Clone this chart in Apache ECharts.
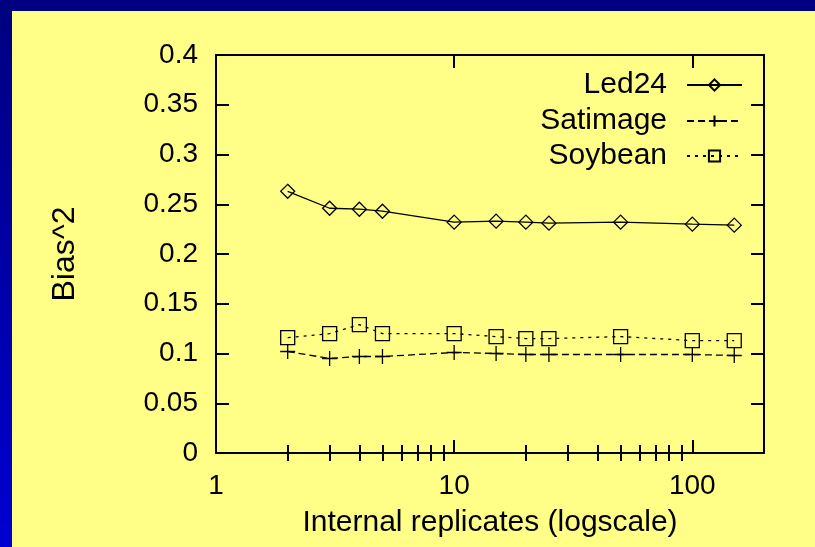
<!DOCTYPE html>
<html>
<head>
<meta charset="utf-8">
<script src="https://cdn.jsdelivr.net/npm/echarts@6/dist/echarts.min.js"></script>
<style>
html,body{margin:0;padding:0;width:815px;height:547px;overflow:hidden;}
body{background:linear-gradient(to bottom,#000080,#0000d2);}
#c{position:absolute;left:12px;top:11px;width:803px;height:536px;background:#ffff88;}
</style>
</head>
<body>
<div id="c"></div>
<script>
// ---- data ----
const replicates = [2, 3, 4, 5, 10, 15, 20, 25, 50, 100, 150];
const led24    = [0.263, 0.246, 0.245, 0.243, 0.232, 0.233, 0.232, 0.231, 0.232, 0.230, 0.229];
const satimage = [0.102, 0.095, 0.097, 0.097, 0.101, 0.100, 0.099, 0.099, 0.099, 0.099, 0.098];
const soybean  = [0.116, 0.120, 0.129, 0.120, 0.120, 0.117, 0.115, 0.115, 0.117, 0.113, 0.113];
const yTickLabels = ['0', '0.05', '0.1', '0.15', '0.2', '0.25', '0.3', '0.35', '0.4'];
const xMajorTicks = [1, 10, 100];
const xTickLabels = ['1', '10', '100'];
const xMinorTicks = [2, 3, 4, 5, 6, 7, 8, 9, 20, 30, 40, 50, 60, 70, 80, 90];
const xMin = 1, xMax = 200;

const FONT = "'Liberation Sans', Arial, Helvetica, sans-serif";
const INK = '#000';

function pairs(ys) { return replicates.map((x, i) => [x, ys[i]]); }
function xLabel(v) {
  const i = xMajorTicks.findIndex(t => Math.abs(t - v) < 1e-6 * t);
  return i >= 0 ? xTickLabels[i] : '';
}

const plusPath = 'path://M0,-10L0,10M-10,0L10,0';

const chart = echarts.init(document.getElementById('c'), null, {renderer: 'canvas'});

const commonLegend = {
  orient: 'vertical', align: 'right', padding: 0,
  itemWidth: 55, itemHeight: 14, right: 72,
  textStyle: {fontFamily: FONT, fontSize: 30, color: INK, lineHeight: 30, padding: [0, 15, 0, 0]},
  selectedMode: false
};

const tickStyle = {color: INK, width: 2};

const option = {
  animation: false,
  backgroundColor: 'transparent',
  textStyle: {fontFamily: FONT},
  grid: {left: 204, right: 51, top: 44, bottom: 94, containLabel: false},
  legend: [
    Object.assign({}, commonLegend, {data: ['Led24'], top: 59}),
    Object.assign({}, commonLegend, {data: ['Satimage'], top: 95}),
    Object.assign({}, commonLegend, {data: ['Soybean'], top: 130})
  ],
  xAxis: [
    { // main log axis (bottom)
      type: 'log', logBase: 10, min: xMin, max: xMax, position: 'bottom',
      name: 'Internal replicates (logscale)', nameLocation: 'middle', nameGap: 55,
      nameTextStyle: {fontFamily: FONT, fontSize: 30, color: INK},
      axisLine: {show: true, onZero: false, lineStyle: {color: INK, width: 2}},
      axisTick: {show: true, inside: true, length: 13, lineStyle: tickStyle},
      axisLabel: {show: true, fontFamily: FONT, fontSize: 28, color: INK, margin: 19, formatter: xLabel},
      splitLine: {show: false}, minorTick: {show: false}
    },
    { // mirror log axis (top)
      type: 'log', logBase: 10, min: xMin, max: xMax, position: 'top',
      axisLine: {show: true, onZero: false, lineStyle: {color: INK, width: 2}},
      axisTick: {show: true, inside: true, length: 13, lineStyle: tickStyle},
      axisLabel: {show: false}, splitLine: {show: false}
    },
    { // minor ticks bottom
      type: 'value', min: 0, max: Math.log10(xMax), position: 'bottom',
      axisLine: {show: false},
      axisTick: {show: true, inside: true, length: 8, lineStyle: tickStyle,
        customValues: xMinorTicks.map(v => Math.log10(v))},
      axisLabel: {show: false}, splitLine: {show: false}
    },
    { // minor ticks top
      type: 'value', min: 0, max: Math.log10(xMax), position: 'top',
      axisLine: {show: false},
      axisTick: {show: true, inside: true, length: 8, lineStyle: tickStyle,
        customValues: xMinorTicks.map(v => Math.log10(v))},
      axisLabel: {show: false}, splitLine: {show: false}
    }
  ],
  yAxis: [
    {
      type: 'value', min: 0, max: 0.4, interval: 0.05, position: 'left',
      name: 'Bias^2', nameLocation: 'middle', nameGap: 135, nameRotate: 90,
      nameTextStyle: {fontFamily: FONT, fontSize: 32, color: INK},
      axisLine: {show: true, onZero: false, lineStyle: {color: INK, width: 2}},
      axisTick: {show: true, inside: true, length: 13, lineStyle: tickStyle},
      axisLabel: {show: true, fontFamily: FONT, fontSize: 28, color: INK, margin: 18,
        formatter: (v) => yTickLabels[Math.round(v / 0.05)]},
      splitLine: {show: false}
    },
    {
      type: 'value', min: 0, max: 0.4, interval: 0.05, position: 'right',
      axisLine: {show: true, onZero: false, lineStyle: {color: INK, width: 2}},
      axisTick: {show: true, inside: true, length: 13, lineStyle: tickStyle},
      axisLabel: {show: false}, splitLine: {show: false}
    }
  ],
  series: [
    {
      name: 'Led24', type: 'line', xAxisIndex: 0, yAxisIndex: 0,
      data: pairs(led24),
      symbol: 'diamond', symbolSize: 14, showAllSymbol: true,
      lineStyle: {color: INK, width: 1.3, type: 'solid'},
      itemStyle: {color: 'rgba(0,0,0,0)', borderColor: INK, borderWidth: 1.3},
      emphasis: {disabled: true}
    },
    {
      name: 'Satimage', type: 'line', xAxisIndex: 0, yAxisIndex: 0,
      data: pairs(satimage),
      symbol: plusPath, symbolSize: 15, showAllSymbol: true,
      lineStyle: {color: INK, width: 1.3, type: [7, 4]},
      itemStyle: {color: 'rgba(0,0,0,0)', borderColor: INK, borderWidth: 1.3},
      emphasis: {disabled: true}
    },
    {
      name: 'Soybean', type: 'line', xAxisIndex: 0, yAxisIndex: 0,
      data: pairs(soybean),
      symbol: 'rect', symbolSize: 14, showAllSymbol: true,
      lineStyle: {color: INK, width: 1.3, type: [3, 5]},
      itemStyle: {color: 'rgba(0,0,0,0)', borderColor: INK, borderWidth: 1.3},
      emphasis: {disabled: true}
    }
  ]
};
chart.setOption(option);
</script>
</body>
</html>
